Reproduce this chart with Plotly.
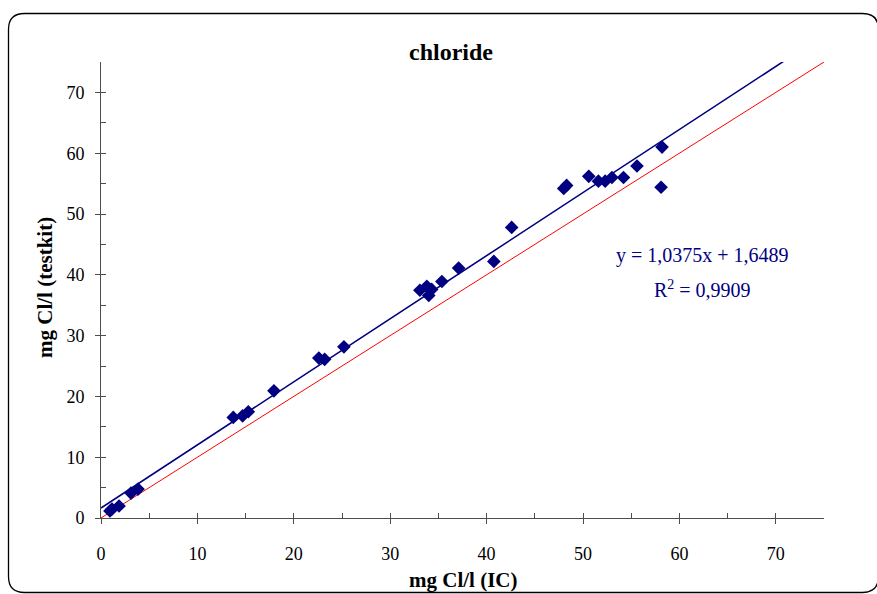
import plotly.graph_objects as go

# Chloride: ion chromatography (IC) versus field test kit, mg Cl/l
ic_mg_l = [0.93, 1.14, 1.87, 3.11, 3.84,
           13.72, 14.69, 15.28, 17.94, 22.6, 23.2, 25.2,
           33.08, 33.8, 34.0, 34.3, 35.36, 37.1, 40.75, 42.6,
           48.0, 48.3, 50.6, 51.6, 52.3, 53.0, 54.2, 55.6, 58.2, 58.1]
testkit_mg_l = [1.15, 1.48, 1.97, 4.1, 4.76,
                16.55, 16.81, 17.47, 20.92, 26.3, 26.1, 28.15,
                37.46, 38.1, 36.6, 37.6, 38.9, 41.1, 42.2, 47.8,
                54.2, 54.7, 56.2, 55.4, 55.4, 56.0, 56.0, 57.9, 61.0, 54.4]

# Linear trendline reported on the chart
slope = 1.0375
intercept = 1.6489
r_squared = 0.9909
line_x = [0, 75]

axis_min, axis_max = 0, 75
tick_values = [0, 10, 20, 30, 40, 50, 60, 70]
tick_labels = ["0", "10", "20", "30", "40", "50", "60", "70"]

W, H = 877, 594
ML, MR, MT, MB = 101, 53, 62, 76
PW, PH = W - ML - MR, H - MT - MB


def px_x(px):
    return (px - ML) / PW


def px_y(py):
    return (H - MB - py) / PH


NAVY = "#000080"
AXIS = "#4d4d4d"
SERIF = "Liberation Serif, Times New Roman, serif"

fig = go.Figure()

# 1:1 reference line
fig.add_trace(go.Scatter(x=line_x, y=line_x, mode="lines",
                         line=dict(color="#ff0000", width=1),
                         hoverinfo="skip", showlegend=False))

# Measurements
fig.add_trace(go.Scatter(x=ic_mg_l, y=testkit_mg_l, mode="markers",
                         marker=dict(symbol="diamond", size=10.5, color=NAVY,
                                     line=dict(width=0)),
                         showlegend=False))

# Regression line
fig.add_trace(go.Scatter(x=line_x, y=[slope * v + intercept for v in line_x],
                         mode="lines", line=dict(color=NAVY, width=1.6),
                         hoverinfo="skip", showlegend=False))

axis_common = dict(range=[axis_min, axis_max], showgrid=False, zeroline=False,
                   showline=True, linecolor=AXIS, linewidth=1,
                   tickfont=dict(family=SERIF, size=18, color="#000000"),
                   ticks="outside", ticklen=5, tickwidth=1, tickcolor=AXIS,
                   tickmode="array", tickvals=tick_values, ticktext=tick_labels)

fig.update_layout(
    width=W, height=H,
    margin=dict(l=ML, r=MR, t=MT, b=MB, autoexpand=False),
    paper_bgcolor="#ffffff", plot_bgcolor="#ffffff",
    xaxis=dict(**axis_common, ticklabelstandoff=14),
    yaxis=dict(**axis_common, ticklabelstandoff=7),
    # inside tick marks every 5 units, overlaid on the main axes
    xaxis2=dict(range=[axis_min, axis_max], overlaying="x", side="bottom",
                showgrid=False, zeroline=False, showline=False,
                showticklabels=False, ticks="inside", ticklen=5, tickwidth=1,
                tickcolor=AXIS, tickmode="linear", tick0=0, dtick=5),
    yaxis2=dict(range=[axis_min, axis_max], overlaying="y", side="left",
                showgrid=False, zeroline=False, showline=False,
                showticklabels=False, ticks="inside", ticklen=5, tickwidth=1,
                tickcolor=AXIS, tickmode="linear", tick0=0, dtick=5),
)

# empty trace so the overlay axes are drawn
fig.add_trace(go.Scatter(x=[None], y=[None], xaxis="x2", yaxis="y2",
                         showlegend=False, hoverinfo="skip"))

# Chart frame with rounded corners (right edge runs along the page border)
x0, y0, x1, y1, r = px_x(8.5), px_y(13.5), px_x(878.5), px_y(592.5), 16
rx, ry = r / PW, r / PH
frame = (f"M {x0 + rx},{y0} L {x1 - rx},{y0} Q {x1},{y0} {x1},{y0 - ry} "
         f"L {x1},{y1 + ry} Q {x1},{y1} {x1 - rx},{y1} "
         f"L {x0 + rx},{y1} Q {x0},{y1} {x0},{y1 + ry} "
         f"L {x0},{y0 - ry} Q {x0},{y0} {x0 + rx},{y0} Z")
fig.add_shape(type="path", path=frame, xref="paper", yref="paper",
              line=dict(color="#000000", width=1.3), layer="below")

annotations = [
    dict(text="<b>chloride</b>", x=px_x(451), y=px_y(52),
         font=dict(family=SERIF, size=24, color="#000000")),
    dict(text="<b>mg Cl/l (IC)</b>", x=px_x(463), y=px_y(580),
         font=dict(family=SERIF, size=21, color="#000000")),
    dict(text="<b>mg Cl/l (testkit)</b>", x=px_x(45), y=px_y(288),
         textangle=-90, font=dict(family=SERIF, size=21, color="#000000")),
    dict(text=f"y = {slope:.4f}x + {intercept:.4f}".replace(".", ","),
         x=px_x(702), y=px_y(255),
         font=dict(family=SERIF, size=20, color=NAVY)),
    dict(text=f"R<sup>2</sup> = {r_squared:.4f}".replace(".", ","),
         x=px_x(702), y=px_y(289),
         font=dict(family=SERIF, size=20, color=NAVY)),
]
for a in annotations:
    fig.add_annotation(xref="paper", yref="paper", showarrow=False,
                       xanchor="center", yanchor="middle", **a)

fig.write_html("out.html")
